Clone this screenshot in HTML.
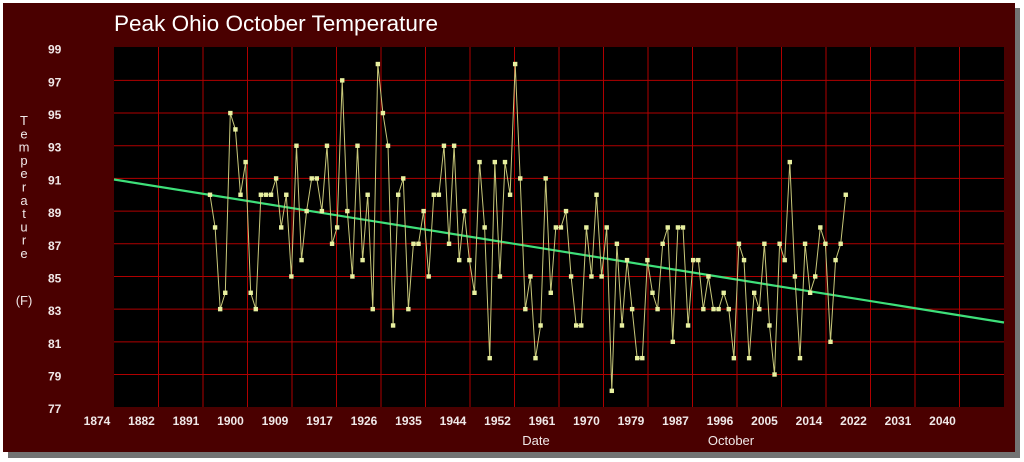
<!DOCTYPE html>
<html><head><meta charset="utf-8"><style>
html,body{margin:0;padding:0;background:#fff;width:1024px;height:462px;overflow:hidden}
svg{display:block}
text{font-family:"Liberation Sans",sans-serif}
</style></head><body>
<svg id="s" width="1024" height="462" xmlns="http://www.w3.org/2000/svg">
<rect x="8" y="8" width="1012" height="450" fill="#000" opacity="0.55"/>
<rect x="3" y="3" width="1012" height="449" fill="#4a0000"/>
<text x="114" y="31" font-size="22" fill="#fff" textLength="324" lengthAdjust="spacingAndGlyphs">Peak Ohio October Temperature</text>
<rect x="114" y="47" width="890" height="360" fill="#000"/>
<g id="grid" stroke="#b00000" stroke-width="1"></g>
<g id="lab" font-size="12" font-weight="bold" fill="#f0e8e8"></g>
<text x="536" y="445" font-size="13" fill="#f0e8e8" text-anchor="middle">Date</text>
<text x="731" y="445" font-size="13" fill="#f0e8e8" text-anchor="middle">October</text>
<g id="ylab" font-size="13" fill="#f0e8e8" text-anchor="middle"></g>
<line x1="114" y1="179.5" x2="1004" y2="322.5" stroke="#3ee07a" stroke-width="2.2"/>
<polyline id="pl" fill="none" stroke="#c8c87a" stroke-width="1"/>
<g id="pts" fill="#e8f0a0"></g>
</svg>
<script>
var ns="http://www.w3.org/2000/svg";
function el(t,a,p,txt){var e=document.createElementNS(ns,t);for(var k in a)e.setAttribute(k,a[k]);if(txt)e.textContent=txt;document.getElementById(p).appendChild(e);return e;}
function yv(v){return 47.7+(99-v)*16.34;}
for(var v=97;v>=79;v-=2){el('line',{x1:114,x2:1004,y1:yv(v),y2:yv(v)},'grid');}
for(var k=1;k<20;k++){var x=114+44.5*k;el('line',{x1:x,x2:x,y1:47,y2:407},'grid');}
var yrs=[1874,1882,1891,1900,1909,1917,1926,1935,1944,1952,1961,1970,1979,1987,1996,2005,2014,2022,2031,2040];
for(var k=0;k<20;k++){el('text',{x:114+44.5*k-17,y:425,'text-anchor':'middle'},'lab',String(yrs[k]));}
for(var v=99;v>=77;v-=2){el('text',{x:48,y:yv(v)+6},'lab',String(v));}
var T="Temperature";for(var i=0;i<T.length;i++){el('text',{x:24,y:125+i*13.3},'ylab',T[i]);}
el('text',{x:24,y:305},'ylab','(F)');
var d=[90,88,83,84,95,94,90,92,84,83,90,90,90,91,88,90,85,93,86,89,91,91,89,93,87,88,97,89,85,93,86,90,83,98,95,93,82,90,91,83,87,87,89,85,90,90,93,87,93,86,89,86,84,92,88,80,92,85,92,90,98,91,
83,85,80,82,91,84,88,88,89,85,82,82,88,85,90,85,88,78,87,82,86,83,80,80,86,84,83,87,88,81,88,88,82,86,86,83,85,83,83,84,83,80,87,86,80,84,83,87,82,79,87,86,92,85,80,87,84,85,88,87,81,86,87,90];
var pts=[];for(var i=0;i<d.length;i++){var x=210+i*5.086,y=yv(d[i]);pts.push(x.toFixed(1)+','+y.toFixed(1));el('rect',{x:x-2.2,y:y-2.2,width:4.4,height:4.4},'pts');}
document.getElementById('pl').setAttribute('points',pts.join(' '));
</script>
</body></html>
